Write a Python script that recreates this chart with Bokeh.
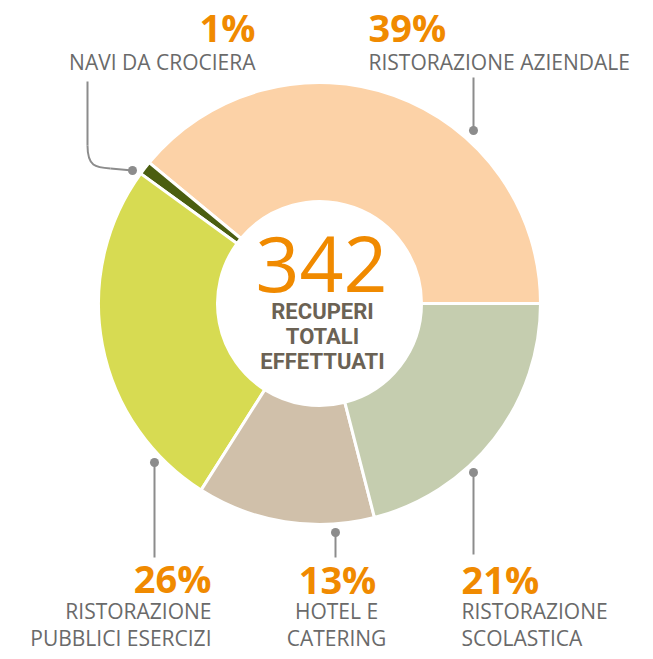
import math
from bokeh.plotting import figure
from bokeh.models import Range1d
from bokeh.core.properties import value
from bokeh.embed import file_html
from bokeh.resources import INLINE

# ---- data ----
categories = ["RISTORAZIONE AZIENDALE", "NAVI DA CROCIERA", "RISTORAZIONE PUBBLICI ESERCIZI",
              "HOTEL E CATERING", "RISTORAZIONE SCOLASTICA"]
shares = [39, 1, 26, 13, 21]
colors = ["#FCD2A7", "#4B5E10", "#D7DB52", "#D0C0AA", "#C5CDAF"]
pct_labels = ["39%", "1%", "26%", "13%", "21%"]
total = 342
center_lines = ["RECUPERI", "TOTALI", "EFFETTUATI"]

W, H = 645, 651
def Y(yref):
    return 659 - yref

p = figure(width=W, height=H, x_range=Range1d(0, W), y_range=Range1d(659 - H, 659),
           output_backend="svg", toolbar_location=None, min_border=0)
p.axis.visible = False
p.grid.visible = False
p.outline_line_color = None
p.background_fill_color = "white"

cx, cy = 319, Y(303)
r_out, r_in = 221, 102

tot = sum(shares)
starts, ends = [], []
acc = 0.0
for s in shares:
    starts.append(2 * math.pi * acc / tot)
    acc += s
    ends.append(2 * math.pi * acc / tot)

p.annular_wedge(x=[cx] * len(shares), y=[cy] * len(shares), inner_radius=r_in, outer_radius=r_out,
                start_angle=starts, end_angle=ends, fill_color=colors,
                line_color="white", line_width=3)

FONT = value("Open Sans")
ORANGE = "#F08A00"
GRAY = "#6A6A6A"
LEAD = "#8C8C8C"

# center
p.text(x=[321], y=[Y(263)], text=[str(total)], text_font=FONT, text_font_size="77px",
       text_color=ORANGE, text_align="center", text_baseline="middle")
p.text(x=[322] * 3, y=[Y(311), Y(336), Y(361)], text=center_lines, text_font=value("Roboto"),
       text_font_size="22px", text_font_style="bold", text_color="#6B6254",
       text_align="center", text_baseline="middle")

# leader lines
p.multi_line(xs=[[473, 473], [154, 154], [335, 335], [473, 473], [87, 87], [110, 132]],
             ys=[[Y(77), Y(130)], [Y(462), Y(557)], [Y(532), Y(557)], [Y(472), Y(554)],
                 [Y(81), Y(145)], [Y(168), Y(170)]],
             line_color=LEAD, line_width=2)
p.bezier(x0=[87], y0=[Y(145)], x1=[110], y1=[Y(168)], cx0=[87], cy0=[Y(166)],
         cx1=[95], cy1=[Y(167)], line_color=LEAD, line_width=2)
p.scatter(x=[132, 473, 154, 335, 473], y=[Y(170), Y(130), Y(462), Y(532), Y(472)],
          size=9, fill_color=LEAD, line_color=None)

# labels
def pct(x, y, t, align):
    p.text(x=[x], y=[Y(y)], text=[t], text_font=FONT, text_font_size="38px",
           text_font_style="bold", text_color=ORANGE, text_align=align, text_baseline="middle")

def lab(x, ys, lines, align):
    p.text(x=[x] * len(lines), y=[Y(v) for v in ys], text=lines, text_font=FONT,
           text_font_size="21px", text_color=GRAY, text_align=align, text_baseline="middle")

pct(255, 26, pct_labels[1], "right")
lab(255, [61], ["NAVI DA CROCIERA"], "right")
pct(368, 26, pct_labels[0], "left")
lab(368, [61], ["RISTORAZIONE AZIENDALE"], "left")
pct(211, 577, pct_labels[2], "right")
lab(211, [610, 637], ["RISTORAZIONE", "PUBBLICI ESERCIZI"], "right")
pct(337, 578, pct_labels[3], "center")
lab(336, [610, 637], ["HOTEL E", "CATERING"], "center")
pct(461, 578, pct_labels[4], "left")
lab(461, [610, 637], ["RISTORAZIONE", "SCOLASTICA"], "left")

open("out.html", "w").write(file_html(p, INLINE))
